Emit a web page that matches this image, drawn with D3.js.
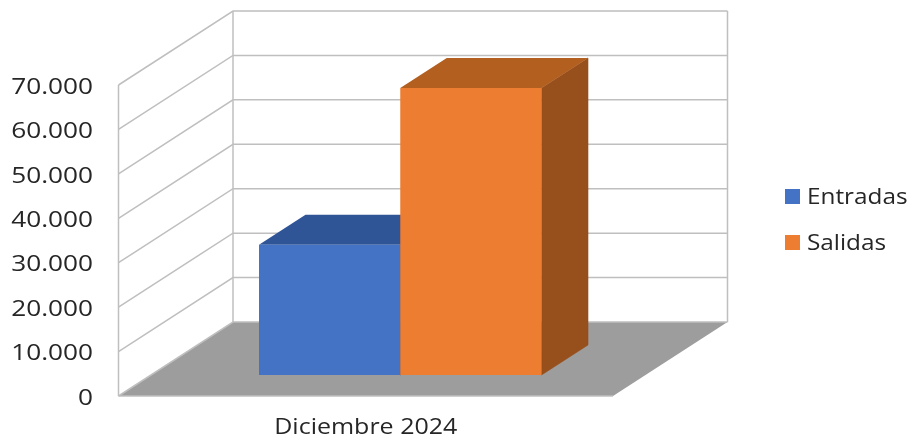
<!DOCTYPE html>
<html><head><meta charset="utf-8">
<script src="https://cdn.jsdelivr.net/npm/d3@7"></script>
<style>html,body{margin:0;padding:0;background:#fff}svg{display:block;filter:blur(0.4px)}text{font-family:"Open Sans",sans-serif;fill:#262626}</style>
</head><body><svg id="c" width="911" height="441"></svg>
<script>
const categories = ["Diciembre 2024"];
const seriesNames = ["Entradas", "Salidas"];
const seriesValues = [29300, 64600];
const tickValues = [0, 10000, 20000, 30000, 40000, 50000, 60000, 70000];
const faceColors = ["#4472c4", "#ed7d31"];
const topColors = ["#2f5597", "#b25f1f"];
const sideColors = ["#2b4e8c", "#974f1c"];

const svg = d3.select("#c").attr("viewBox", "0 0 911 441");
const fmt = d3.formatLocale({decimal: ",", thousands: ".", grouping: [3], currency: ["", ""]}).format(",");

// front-plane scales; depth d in 0..1 maps front to back wall
const x0 = d3.scaleBand().domain(categories).range([118.5, 613]);
const xs = d3.scaleBand().domain(seriesNames).range([259 - 32.5, 541.5 - 32.5]);
const y = d3.scaleLinear().domain([0, 70000]).range([396, 85]);
const depthX = d3.scaleLinear().domain([0, 1]).range([0, 114.5]);
const depthY = d3.scaleLinear().domain([0, 1]).range([0, -74]);
const P = (px, v, d) => [px + depthX(d), y(v) + depthY(d)];
const line = d3.line();
const poly = pts => line(pts) + "Z";
const maxV = tickValues[tickValues.length - 1];
const xL = x0.range()[0], xR = x0.range()[1];

// the reference's text runs wider than the font's natural width
function stretch(sel, k) {
  sel.each(function () {
    const w = this.getComputedTextLength();
    d3.select(this).attr("textLength", w * k).attr("lengthAdjust", "spacingAndGlyphs");
  });
}

const root = svg.append("g");

// floor
root.append("path").attr("d", poly([P(xL,0,0), P(xR,0,0), P(xR,0,1), P(xL,0,1)])).attr("fill", "#9d9d9d");

// gridlines
const grid = root.append("g").attr("fill", "none").attr("stroke", "#bfbfbf").attr("stroke-width", 1.5);
grid.selectAll(".g").data(tickValues).join("path")
  .attr("d", v => line([P(xL,v,0), P(xL,v,1), P(xR,v,1)]));
grid.append("path").attr("d", line([P(xL,0,0), P(xL,maxV,0)]));
grid.append("path").attr("d", line([P(xL,0,1), P(xL,maxV,1)]));
grid.append("path").attr("d", line([P(xR,0,1), P(xR,maxV,1)]));
grid.append("path").attr("d", line([P(xL,0,0), P(xR,0,0)]));

// bars
const d0 = 0.284, d1 = 0.69;
seriesNames.forEach((s, i) => {
  const a = xs(s), b = a + xs.bandwidth(), v = seriesValues[i];
  const g = root.append("g");
  g.append("path").attr("d", poly([P(b,0,d0), P(b,0,d1), P(b,v,d1), P(b,v,d0)])).attr("fill", sideColors[i]).attr("stroke", sideColors[i]).attr("stroke-width", 0.6);
  g.append("path").attr("d", poly([P(a,v,d0), P(b,v,d0), P(b,v,d1), P(a,v,d1)])).attr("fill", topColors[i]);
  g.append("path").attr("d", poly([P(a,0,d0), P(b,0,d0), P(b,v,d0), P(a,v,d0)])).attr("fill", faceColors[i]);
});

// value axis
const yAxis = d3.axisLeft(y).tickValues(tickValues).tickFormat(fmt).tickSize(0).tickPadding(0);
const ya = svg.append("g").attr("transform", "translate(93,1)").call(yAxis);
ya.select(".domain").remove();
ya.selectAll("text").style("font-family", '"Open Sans",sans-serif').style("font-size", "22.5px").attr("fill", "#262626").call(stretch, 1.165);

// category axis
const xAxis = d3.axisBottom(x0).tickSize(0).tickPadding(0);
const xa = svg.append("g").attr("transform", "translate(0,419)").call(xAxis);
xa.select(".domain").remove();
xa.selectAll("text").style("font-family", '"Open Sans",sans-serif').style("font-size", "21px").attr("fill", "#262626").call(stretch, 1.19);

// legend
const leg = svg.append("g");
const legendY = d3.scalePoint().domain(seriesNames).range([196.5, 242.5]);
seriesNames.forEach((s, i) => {
  leg.append("rect").attr("x", 785).attr("y", legendY(s) - 7.5).attr("width", 15).attr("height", 15).attr("fill", faceColors[i]);
  leg.append("text").attr("x", 807).attr("y", legendY(s)).attr("dy", "0.35em").style("font-size", "22px").text(s).call(stretch, 1.105);
});
</script></body></html>
